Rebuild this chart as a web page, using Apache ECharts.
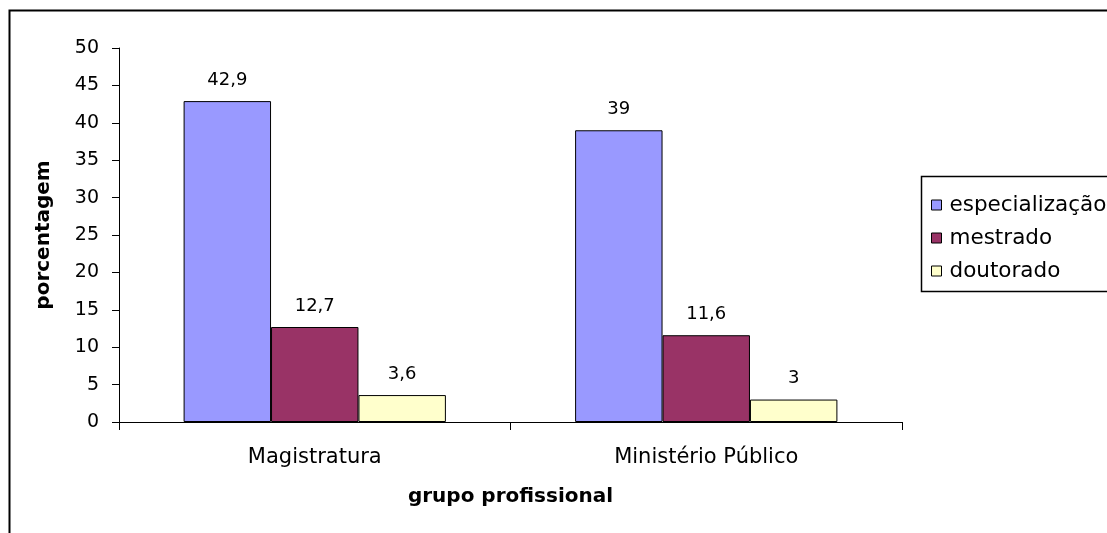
<!DOCTYPE html>
<html>
<head>
<meta charset="utf-8">
<script src="https://cdn.jsdelivr.net/npm/echarts@6/dist/echarts.min.js"></script>
<style>
  html, body { margin: 0; padding: 0; background: #fff; }
  #chart { width: 1107px; height: 533px; }
</style>
</head>
<body>
<div id="chart"></div>
<script>
const categories = ['Magistratura', 'Ministério Público']
const especializacao = [42.9, 39]
const mestrado = [12.7, 11.6]
const doutorado = [3.6, 3]
const seriesNames = ['especialização', 'mestrado', 'doutorado']
const colors = ['#9999FF', '#993366', '#FFFFCC']

const font = '"DejaVu Sans", sans-serif'

const chart = echarts.init(document.getElementById('chart'))

const makeSeries = (name, data, color) => ({
  name: name,
  type: 'bar',
  data: data,
  barGap: 0,
  barCategoryGap: '33%',
  itemStyle: { color: color, borderColor: '#000', borderWidth: 1 },
  label: {
    show: true,
    position: 'top',
    distance: 12,
    color: '#000',
    fontFamily: font,
    fontSize: 18,
    formatter: (p) => String(p.value).replace('.', ',')
  }
})

chart.setOption({
  backgroundColor: '#fff',
  animation: false,
  grid: { left: 119, top: 48, width: 783, height: 374 },
  graphic: [
    {
      type: 'rect',
      shape: { x: 9.5, y: 10.5, width: 1300, height: 700 },
      style: { fill: 'none', stroke: '#000', lineWidth: 2 }
    },
    {
      type: 'rect',
      shape: { x: 921.5, y: 176.5, width: 300, height: 115 },
      style: { fill: 'none', stroke: '#000', lineWidth: 1.5 }
    }
  ],
  legend: {
    orient: 'vertical',
    left: 931,
    top: 194,
    padding: 0,
    itemWidth: 10,
    itemHeight: 10,
    itemGap: 11,
    icon: 'rect',
    itemStyle: { borderColor: '#000', borderWidth: 1 },
    textStyle: { fontFamily: font, fontSize: 21.5, color: '#000', padding: [0, 0, 0, 3] },
    data: seriesNames
  },
  xAxis: {
    type: 'category',
    data: categories,
    name: 'grupo profissional',
    nameLocation: 'middle',
    nameGap: 65,
    nameTextStyle: { fontFamily: font, fontSize: 20, fontWeight: 'bold', color: '#000' },
    axisLine: { lineStyle: { color: '#000', width: 1 } },
    axisTick: { show: true, length: 8, lineStyle: { color: '#000' } },
    axisLabel: { margin: 25, fontFamily: font, fontSize: 21, color: '#000' }
  },
  yAxis: {
    type: 'value',
    min: 0,
    max: 50,
    interval: 5,
    name: 'porcentagem',
    nameLocation: 'middle',
    nameGap: 65,
    nameTextStyle: { fontFamily: font, fontSize: 20, fontWeight: 'bold', color: '#000' },
    axisLine: { show: true, lineStyle: { color: '#000', width: 1 } },
    axisTick: { show: true, length: 7, lineStyle: { color: '#000' } },
    axisLabel: { margin: 20, fontFamily: font, fontSize: 19, color: '#000' },
    splitLine: { show: false }
  },
  series: [
    makeSeries(seriesNames[0], especializacao, colors[0]),
    makeSeries(seriesNames[1], mestrado, colors[1]),
    makeSeries(seriesNames[2], doutorado, colors[2])
  ]
})
</script>
</body>
</html>
